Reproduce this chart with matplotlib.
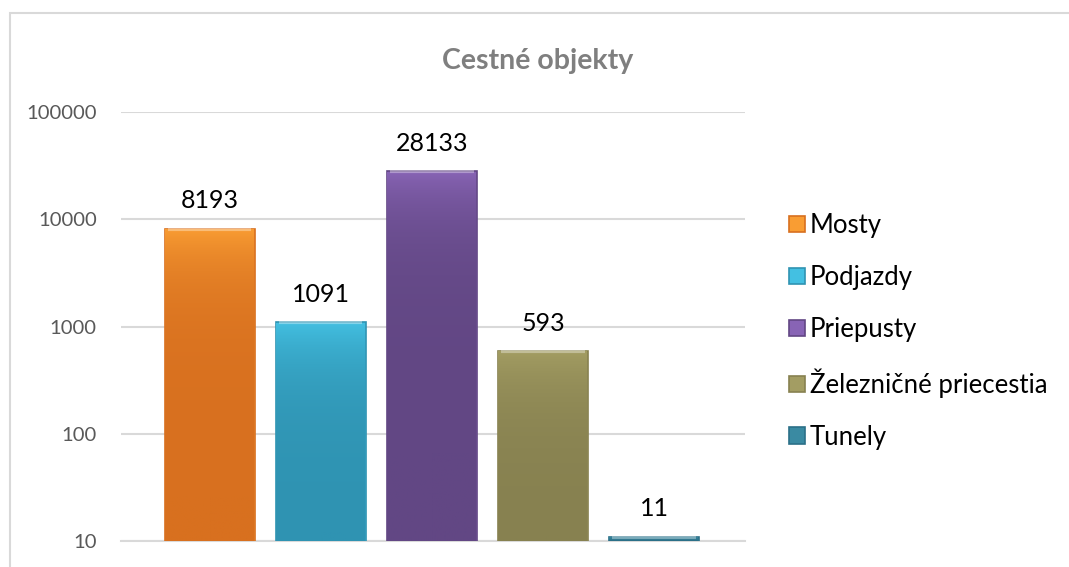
import numpy as np
import matplotlib.pyplot as plt
import matplotlib.colors as mcolors
from matplotlib.patches import Rectangle

plt.rcParams['font.family'] = ['Lato', 'DejaVu Sans']

# data
categories = ['Mosty', 'Podjazdy', 'Priepusty', 'Železničné priecestia', 'Tunely']
values = [8193, 1091, 28133, 593, 11]
top_colors = ['#F99D33', '#43C0E2', '#8864B5', '#A39D63', '#3A8AA2']
bottom_colors = ['#D8701F', '#2F93B2', '#624784', '#878150', '#2B7088']
yticks = [10, 100, 1000, 10000, 100000]

W, H = 1069, 567
fig = plt.figure(figsize=(W / 100, H / 100), dpi=100)

# chart area border
fig.patches.append(Rectangle((10 / W, -0.05), 1.2, 1 - 13 / H + 0.05,
                             transform=fig.transFigure, fill=False,
                             edgecolor='#d9d9d9', lw=1.5, clip_on=False))

ax = fig.add_axes([121 / W, 1 - 541 / H, 624 / W, (541 - 112) / H])
ax.set_yscale('log')
x = np.arange(len(values))

bw = 0.81
grad = np.linspace(0, 1, 256).reshape(-1, 1)
for i, v in enumerate(values):
    bar = ax.bar(x[i], v, width=bw, color=top_colors[i],
                 edgecolor=bottom_colors[i], linewidth=1.2, zorder=3)[0]
    cmap = mcolors.LinearSegmentedColormap.from_list(
        'g%d' % i, [bottom_colors[i], top_colors[i]])
    im = ax.imshow(grad, cmap=cmap, aspect='auto', origin='lower',
                   extent=(x[i] - bw / 2, x[i] + bw / 2, 10, v), zorder=3.5)
    im.set_clip_path(bar)
    # light bevel along the top edge
    ax.plot([x[i] - bw / 2 + 0.03, x[i] + bw / 2 - 0.03], [v, v], color='white',
            alpha=0.35, lw=3, zorder=4, solid_capstyle='butt', clip_on=False)
    ax.annotate(str(v), (x[i], v), xytext=(0, 20), textcoords='offset points',
                ha='center', va='center', fontsize=18, color='black')

ax.set_aspect('auto')
ax.set_xlim(-0.80, 4.82)
ax.set_ylim(10, 100000)

ax.set_yticks(yticks)
ax.set_yticklabels([str(t) for t in yticks])
ax.minorticks_off()
ax.set_xticks([])
ax.tick_params(axis='y', length=0, labelsize=14.6, labelcolor='#595959', pad=17.5)
ax.yaxis.grid(True, color='#d9d9d9', lw=1.5, zorder=0)
ax.set_axisbelow(True)
for s in ['top', 'right', 'left']:
    ax.spines[s].set_visible(False)
ax.spines['bottom'].set_color('#d9d9d9')
ax.spines['bottom'].set_linewidth(1.5)

fig.text(538 / W, 1 - 61 / H, 'Cestné objekty', ha='center', va='center',
         fontsize=20.5, fontweight='bold', color='#7f7f7f')

handles = [Rectangle((0, 0), 1, 1, facecolor=top_colors[i],
                     edgecolor=bottom_colors[i], lw=1.2) for i in range(len(values))]
fig.legend(handles, categories, loc='center left',
           bbox_to_anchor=(779 / W, 1 - 331.5 / H), frameon=False,
           fontsize=18.5, handlelength=0.6, handleheight=0.6,
           handletextpad=0.2, labelspacing=1.04, borderaxespad=0)

fig.savefig('out.png', dpi=100)
